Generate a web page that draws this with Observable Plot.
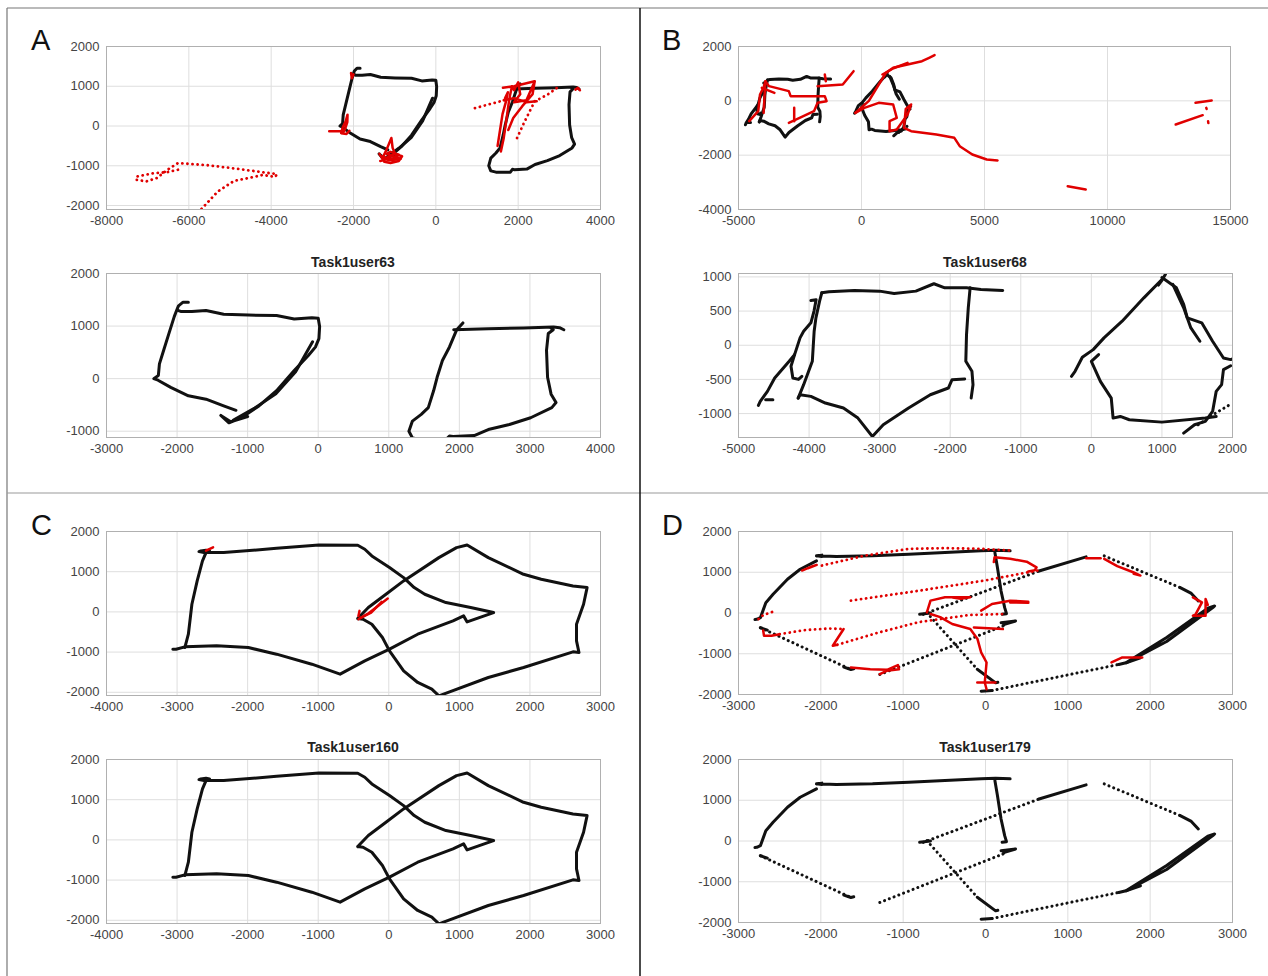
<!DOCTYPE html>
<html><head><meta charset="utf-8">
<script src="https://cdn.jsdelivr.net/npm/d3@7"></script>
<script src="https://cdn.jsdelivr.net/npm/@observablehq/plot@0.6"></script>
<style>
body{margin:0;background:#fff;}
#root{position:relative;width:1268px;height:976px;overflow:hidden;background:#fff;font-family:"Liberation Sans",Arial,sans-serif;}
.sub{position:absolute;}
.letter{position:absolute;font-size:29px;color:#111;line-height:1;}
.ttl{position:absolute;font-weight:bold;font-size:14px;color:#222;width:494px;text-align:center;}
</style>
</head><body><div id="root"></div>
<script>
// ---------------- data ----------------
const panels = ["A","B","C","D"];
const titles = ["Task1user63","Task1user68","Task1user160","Task1user179"];

// Panel A
const blackA = [
 [[-1840,1455],[-1915,1455],[-1980,1385],[-2000,1320],[-2040,1180],[-2115,860],[-2190,540],[-2250,280],[-2265,60],[-2330,0],[-2270,-30],[-2090,-167],[-1840,-327],[-1590,-391],[-1340,-519],[-1165,-603]],
 [[-1990,1300],[-1940,1275],[-1790,1275],[-1590,1295],[-1340,1225],[-990,1210],[-590,1200],[-340,1135],[-90,1160],[0,1150],[20,990],[10,760],[-40,600],[-140,440],[-340,155],[-590,-230],[-840,-520],[-1090,-745],[-1265,-840],[-1380,-700],[-1240,-820],[-1000,-720]],
 [[-1200,-790],[-900,-560],[-600,-290],[-320,130],[-80,700]],
 [[2050,1060],[1960,923],[1860,603],[1760,346],[1685,26],[1635,-231],[1560,-551],[1460,-680],[1335,-808],[1285,-1000],[1335,-1128],[1460,-1160],[1810,-1160],[1860,-1090],[1910,-1100],[2210,-1083],[2410,-968],[2710,-872],[3010,-744],[3310,-551],[3370,-455],[3300,-295],[3250,26],[3235,538],[3260,859],[3330,930],[3300,960]],
 [[1920,930],[2410,949],[2910,962],[3335,980],[3420,970],[3480,930]]
];
const blackDotA = [];
const redA = [
 [[-2590,-134],[-2230,-134],[-2200,-60],[-2150,100],[-2145,285],[-2190,120],[-2260,-30],[-2300,-180],[-2170,-200],[-2100,-120]],
 [[-2060,1335],[-2040,1200],[-2000,1300]],
 [[-1370,-700],[-1250,-900],[-1100,-930],[-900,-880],[-820,-760],[-1000,-700],[-1150,-780],[-1300,-820],[-1200,-600],[-1080,-300],[-1050,-550],[-950,-800],[-1250,-850],[-1350,-880]],
 [[-1300,-760],[-1150,-860],[-950,-840],[-850,-820],[-1000,-780],[-1200,-700],[-1100,-650],[-900,-720],[-1050,-880]],
 [[1580,-640],[1650,-300],[1720,200],[1760,500],[1800,760],[1850,1000],[1900,900],[2000,1100],[2050,800],[1900,600],[2200,650],[2400,1120],[2350,800],[2100,500],[1880,200],[1760,-100]],
 [[1500,-500],[1560,-100],[1620,300],[1700,600],[1750,850],[1680,700]],
 [[1630,960],[1900,1000],[2100,1050],[2400,1125]],
 [[1650,650],[1900,700],[2200,600],[2450,620]],
 [[3390,915],[3450,960],[3500,900]]
];
const redDotA = [
 [[-6265,-1100],[-6520,-1160],[-6864,-1190],[-7250,-1268],[-7290,-1350],[-7036,-1394],[-6778,-1310],[-6520,-1100],[-6264,-932],[-5500,-990],[-4800,-1080],[-3861,-1210],[-3900,-1280],[-4200,-1230],[-4547,-1310],[-4900,-1380],[-5300,-1650],[-5750,-2150]],
 [[950,450],[1350,560],[1716,664]],
 [[1973,-302],[2150,100],[2402,622],[2700,780],[3000,1000]]
];

// Panel B
const blackB = [
 [[-3820,768],[-3718,782],[-3359,802],[-3000,792],[-2795,758],[-2487,792],[-2231,900],[-2077,841],[-1769,841],[-1564,817],[-1256,802]],
 [[-1718,841],[-1744,548],[-1769,156],[-1779,-235],[-1692,-381],[-1677,-577],[-1703,-773]],
 [[-1795,-494],[-1974,-504],[-2026,-626],[-2282,-724],[-2590,-919],[-2949,-1164],[-3103,-1335],[-3308,-1066],[-3513,-919],[-3769,-846],[-3974,-748],[-4128,-724],[-4154,-773]],
 [[-4154,-773],[-4077,-577],[-3954,-235],[-3928,205],[-3903,401],[-3851,645],[-3820,768]],
 [[-3974,655],[-3900,665],[-3930,500],[-3974,328],[-4077,205],[-4128,108],[-4205,-137],[-4282,-235],[-4487,-479],[-4590,-675],[-4692,-821],[-4718,-880]],
 [[-4615,-797],[-4513,-797]],
 [[-4205,-137],[-4256,-308],[-4230,-480],[-4150,-500],[-4102,-455]],
 [[1000,963],[744,694],[436,352],[179,108],[26,-64],[-128,-176],[-231,-381],[-282,-455]],
 [[103,-137],[0,-235],[128,-528],[282,-773],[308,-1066],[410,-1042],[538,-1090],[1000,-1125],[1615,-1066],[1769,-1042]],
 [[1000,990],[1205,841],[1308,597],[1359,401],[1564,328],[1718,59],[1872,-186],[1974,-210],[2000,-200]],
 [[1154,890],[1308,548],[1410,254],[1538,59]],
 [[1974,-300],[1872,-357],[1846,-577],[1769,-675],[1718,-968],[1615,-1115],[1462,-1164],[1308,-1286]],
 [[1050,1040],[1000,950],[950,880]]
];
const blackDotB = [
 [[1513,-1164],[1750,-1000],[2000,-846]]
];
const redB = [
 [[-3906,724],[-3760,540],[-2955,356],[-2882,172],[-1492,172],[-1419,-12],[-1785,-74],[-1931,-380],[-2516,-626],[-2955,-810]],
 [[-2736,-258],[-2736,-748]],
 [[-4564,-748],[-4198,-380],[-4125,233],[-3979,500],[-3906,724],[-3979,-442]],
 [[-4052,478],[-3540,294]],
 [[-1785,540],[-761,601],[-322,1092]],
 [[-1492,969],[-1450,720]],
 [[-249,-442],[300,0],[702,601],[995,1030],[1287,1215],[1872,1337],[2458,1460],[2750,1583],[2970,1681]],
 [[849,969],[1300,1200],[1872,1400]],
 [[-249,-442],[117,-258],[702,-74],[1287,-135],[1433,-626],[1141,-748],[1141,-1117],[1433,-1055],[1872,-503],[2018,-135],[1800,-300],[1726,-994],[2018,-1117],[3043,-1239],[3774,-1362],[3994,-1669],[4506,-1975],[5091,-2160],[5530,-2196]],
 [[8383,-3141],[9115,-3264]],
 [[13577,-74],[14235,12]],
 [[12772,-871],[13870,-528]],
 [[14015,-258],[14030,-300]],
 [[14088,-748],[14100,-820]]
];
const redDotB = [];

// Panel C
const blackC = [
 [[-2665,1516],[-2590,1533],[-2540,1516],[-2600,1470],[-2690,1500],[-2665,1516]],
 [[-2565,1475],[-2340,1475],[-1590,1582],[-990,1665],[-440,1657],[-340,1558],[-240,1392],[10,1102],[210,853],[360,605],[510,439],[810,232],[1160,108],[1485,-17],[1110,-249],[1060,-99],[910,-224],[410,-555],[10,-928],[-340,-1218],[-690,-1549],[-1090,-1301],[-1590,-1052],[-1990,-887],[-2440,-845],[-2890,-870],[-3015,-928],[-3060,-930]],
 [[-2890,-887],[-2840,-555],[-2790,191],[-2715,771],[-2640,1268],[-2590,1475]],
 [[-440,-166],[-290,108],[-40,439],[210,771],[710,1350],[960,1599],[1110,1665],[1410,1350],[1910,936],[2160,812],[2610,646],[2810,605],[2760,191],[2660,-307],[2660,-721],[2695,-1011],[2610,-994],[1910,-1384],[1410,-1632],[710,-2088],[610,-1922],[410,-1756],[210,-1466],[10,-969],[-90,-638],[-240,-307],[-365,-182],[-440,-166]]
];
const blackDotC = [];
const redC = [
 [[-2590,1525],[-2490,1608]],
 [[-430,-182],[-300,-50],[-15,332]],
 [[-400,-150],[-250,-20],[-100,250]],
 [[-415,25],[-430,-100]]
];
const redDotC = [];

// Panel D
const blackD = [
 [[-2053,1402],[-1987,1420],[-1987,1385],[-2053,1402],[-1811,1386],[-1372,1402],[-932,1443],[-492,1484],[-53,1525],[123,1542],[299,1525]],
 [[114,1484],[145,1115],[189,541],[233,131],[255,-16],[202,-33]],
 [[-2053,1279],[-2251,1074],[-2405,828],[-2580,459],[-2668,254],[-2734,-115],[-2778,-156],[-2800,-160]],
 [[-1720,-1330],[-1635,-1386],[-1600,-1370]],
 [[189,-238],[365,-197],[230,-280],[211,-320]],
 [[650,1030],[1222,1378]],
 [[-100,-1380],[123,-1714],[150,-1700]],
 [[-53,-1919],[79,-1902]],
 [[1618,-1263],[1706,-1222],[2200,-700],[2761,131],[2783,172],[2700,120],[2200,-600],[1706,-1222]],
 [[1706,-1222],[1882,-1099]],
 [[2365,623],[2500,480],[2585,295]],
 [[-800,-33],[-668,0]],
 [[-2734,-361],[-2650,-420]]
];
const blackDotD = [
 [[-2734,-361],[-1635,-1386]],
 [[-1284,-1509],[211,-320]],
 [[-756,-33],[650,1030]],
 [[-712,8],[-100,-1380]],
 [[79,-1902],[1618,-1263]],
 [[1442,1402],[2365,623]]
];
const redD = [
 [[-2229,1041],[-2100,1150],[-2050,1180],[-2150,1100],[-2075,1164]],
 [[101,1250],[110,1370],[300,1330],[500,1260],[620,1120],[600,1050],[520,1020]],
 [[-2700,-430],[-2690,-560],[-2600,-560],[-2500,-520]],
 [[-1723,-394],[-1855,-804],[-1800,-780]],
 [[-1635,-1337],[-1400,-1380],[-1196,-1394],[-1064,-1279],[-1050,-1380],[-1200,-1420],[-1284,-1501]],
 [[-712,16],[-668,303],[-492,385],[-185,385],[-300,350],[-400,380]],
 [[-53,57],[79,221],[299,303],[519,279],[520,250],[300,260]],
 [[-668,-25],[-550,-100],[-404,-271],[-185,-394],[-97,-640],[-53,-968],[13,-1214],[-9,-1706],[13,-1870]],
 [[-100,-1706],[120,-1706]],
 [[-141,-353],[211,-394]],
 [[1222,1345],[1398,1345]],
 [[1442,1328],[1600,1150],[1794,1000],[1882,918],[1800,960]],
 [[2519,385],[2629,262],[2550,-40],[2519,-66],[2673,-66],[2673,344],[2700,200]],
 [[1530,-1214],[1662,-1091],[1904,-1091]]
];
const redDotD = [
 [[-2500,-520],[-2200,-420],[-1900,-380],[-1723,-394]],
 [[-1800,-780],[-1300,-480],[-800,-220],[-200,-50],[211,-25]],
 [[-2756,-148],[-2700,-50],[-2580,33]],
 [[-1987,1164],[-1459,1410],[-932,1574],[-492,1591],[-53,1574],[299,1533]],
 [[629,1041],[0,800],[-800,550],[-1635,303]]
];

// axis tick values
const ticksA1x = [-8000,-6000,-4000,-2000,0,2000,4000], ticksA1y = [-2000,-1000,0,1000,2000];
const ticksA2x = [-3000,-2000,-1000,0,1000,2000,3000,4000], ticksA2y = [-1000,0,1000,2000];
const ticksB1x = [-5000,0,5000,10000,15000], ticksB1y = [-4000,-2000,0,2000];
const ticksB2x = [-5000,-4000,-3000,-2000,-1000,0,1000,2000], ticksB2y = [-1000,-500,0,500,1000];
const ticksCx = [-4000,-3000,-2000,-1000,0,1000,2000,3000], ticksCy = [-2000,-1000,0,1000,2000];
const ticksDx = [-3000,-2000,-1000,0,1000,2000,3000], ticksDy = [-2000,-1000,0,1000,2000];

// ---------------- drawing ----------------
const root = document.getElementById("root");
const ml = 60, mr = 20, mt = 8, mb = 26;
const fmt = d => String(d);

function sub(o) {
  const marks = [
    Plot.gridX(o.xt, {stroke: "#dedede", strokeOpacity: 1, strokeWidth: 1}),
    Plot.gridY(o.yt, {stroke: "#dedede", strokeOpacity: 1, strokeWidth: 1})
  ];
  const X = d => d[0], Y = d => d[1];
  for (const s of o.bs) marks.push(Plot.line(s, {x: X, y: Y, stroke: "#111", strokeWidth: 3, clip: true, strokeLinejoin: "round", strokeLinecap: "round"}));
  for (const s of o.bd) marks.push(Plot.line(s, {x: X, y: Y, stroke: "#111", strokeWidth: 3, strokeDasharray: "0.1,5", strokeLinecap: "round", clip: true}));
  for (const s of o.rs) marks.push(Plot.line(s, {x: X, y: Y, stroke: "#e00000", strokeWidth: 2.5, clip: true, strokeLinejoin: "round", strokeLinecap: "round"}));
  for (const s of o.rd) marks.push(Plot.line(s, {x: X, y: Y, stroke: "#e00000", strokeWidth: 2.8, strokeDasharray: "0.1,5", strokeLinecap: "round", clip: true}));
  marks.push(Plot.frame({stroke: "#b0b0b0", strokeWidth: 1}));
  marks.push(Plot.axisX(o.xt, {tickSize: 0, tickPadding: 6, tickFormat: fmt, fill: "#444"}));
  marks.push(Plot.axisY(o.yt, {tickSize: 0, tickPadding: 7, tickFormat: fmt, fill: "#444"}));
  const svg = Plot.plot({
    width: o.w + ml + mr, height: o.h + mt + mb,
    marginLeft: ml, marginRight: mr, marginTop: mt, marginBottom: mb,
    x: {domain: o.xd, label: null}, y: {domain: o.yd, label: null},
    style: {fontFamily: "'Liberation Sans', Arial, sans-serif", fontSize: "13px", background: "transparent", overflow: "visible", color: "#444"},
    marks
  });
  svg.classList.add("sub");
  svg.style.left = (o.left - ml) + "px";
  svg.style.top = (o.top - mt) + "px";
  root.appendChild(svg);
}

// Panel A
sub({left:106, top:46, w:494, h:163, xd:[-8000,4000], yd:[-2100,2000], xt:ticksA1x, yt:ticksA1y, bs:blackA, bd:blackDotA, rs:redA, rd:redDotA});
sub({left:106, top:273, w:494, h:164, xd:[-3000,4000], yd:[-1120,2000], xt:ticksA2x, yt:ticksA2y, bs:blackA, bd:blackDotA, rs:[], rd:[]});
// Panel B
sub({left:738, top:46, w:492, h:163, xd:[-5000,15000], yd:[-4000,2000], xt:ticksB1x, yt:ticksB1y, bs:blackB, bd:blackDotB, rs:redB, rd:redDotB});
sub({left:738, top:273, w:494, h:164, xd:[-5000,2000], yd:[-1350,1050], xt:ticksB2x, yt:ticksB2y, bs:blackB, bd:blackDotB, rs:[], rd:[]});
// Panel C
sub({left:106, top:531, w:494, h:164, xd:[-4000,3000], yd:[-2080,2000], xt:ticksCx, yt:ticksCy, bs:blackC, bd:blackDotC, rs:redC, rd:redDotC});
sub({left:106, top:759, w:494, h:164, xd:[-4000,3000], yd:[-2080,2000], xt:ticksCx, yt:ticksCy, bs:blackC, bd:blackDotC, rs:[], rd:[]});
// Panel D
sub({left:738, top:531, w:494, h:163, xd:[-3000,3000], yd:[-2000,2000], xt:ticksDx, yt:ticksDy, bs:blackD, bd:blackDotD, rs:redD, rd:redDotD});
sub({left:738, top:759, w:494, h:163, xd:[-3000,3000], yd:[-2000,2000], xt:ticksDx, yt:ticksDy, bs:blackD, bd:blackDotD, rs:[], rd:[]});

// titles
const titlePos = [[106,254],[738,254],[106,739],[738,739]];
titles.forEach((t,i) => {
  const d = document.createElement("div");
  d.className = "ttl"; d.textContent = t;
  d.style.left = titlePos[i][0] + "px"; d.style.top = titlePos[i][1] + "px";
  root.appendChild(d);
});
// panel letters
const letterPos = [[31,26],[662,26],[31,511],[662,511]];
panels.forEach((t,i) => {
  const d = document.createElement("div");
  d.className = "letter"; d.textContent = t;
  d.style.left = letterPos[i][0] + "px"; d.style.top = letterPos[i][1] + "px";
  root.appendChild(d);
});
// panel borders
const ns = "http://www.w3.org/2000/svg";
const bsvg = document.createElementNS(ns, "svg");
bsvg.setAttribute("width", 1268); bsvg.setAttribute("height", 976);
bsvg.style.position = "absolute"; bsvg.style.left = "0"; bsvg.style.top = "0"; bsvg.style.pointerEvents = "none";
[[7,8,1268,8,"#777",1.2],[7,8,7,976,"#777",1.2],[7,493,1268,493,"#999",1.2],[640,8,640,976,"#111",1.5]].forEach(([x1,y1,x2,y2,c,w]) => {
  const l = document.createElementNS(ns, "line");
  l.setAttribute("x1",x1); l.setAttribute("y1",y1); l.setAttribute("x2",x2); l.setAttribute("y2",y2);
  l.setAttribute("stroke",c); l.setAttribute("stroke-width",w);
  bsvg.appendChild(l);
});
root.appendChild(bsvg);
</script>
</body></html>
